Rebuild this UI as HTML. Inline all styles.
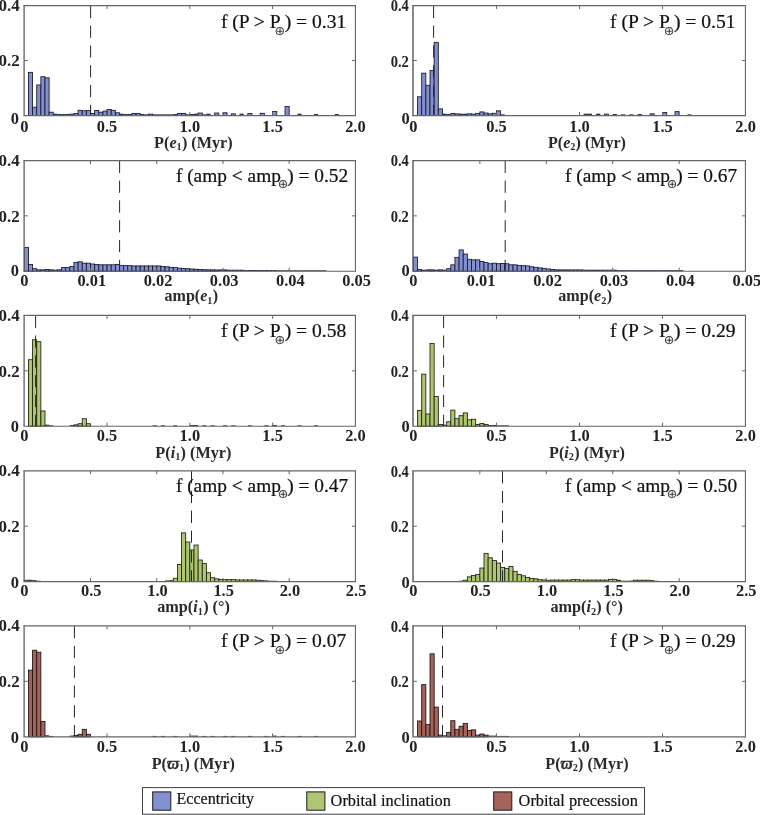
<!DOCTYPE html>
<html lang="en"><head><meta charset="utf-8"><title>Orbital element spectra histograms</title>
<style>
html,body{margin:0;padding:0;background:#fff;}
svg{display:block;will-change:transform;}
text{font-family:"Liberation Serif","DejaVu Serif",serif;fill:#222;}
.tk{font-size:16.4px;font-weight:bold;}
.ty{font-size:17px;font-weight:bold;}
.tz{font-size:15.8px;font-weight:bold;}
.xl{font-size:16.4px;font-weight:bold;fill:#2b2b2b;}
.an{font-size:19.1px;fill:#111;stroke:#111;stroke-width:0.22px;}
.lg{font-size:16.3px;fill:#111;stroke:#111;stroke-width:0.2px;}
.bi{font-style:italic;font-weight:bold;}
.sb{font-size:10.4px;}
.ss{stroke:none;fill:#3a3a3a;font-size:12.4px;font-family:"DejaVu Sans","Liberation Serif",sans-serif;}
</style></head><body>
<svg width="760" height="815" viewBox="0 0 760 815">
<rect x="0" y="0" width="760" height="815" fill="#fff"/>
<g id="p00">
<g fill="#8390d0" stroke="#14172a" stroke-width="0.85">
<rect x="28.44" y="72.33" width="4.14" height="43.17"/>
<rect x="32.58" y="107.25" width="4.14" height="8.25"/>
<rect x="36.72" y="84.98" width="4.14" height="30.52"/>
<rect x="40.86" y="76.73" width="4.14" height="38.77"/>
<rect x="44.99" y="77.82" width="4.14" height="37.68"/>
<rect x="49.13" y="112.2" width="4.14" height="3.3"/>
<rect x="53.27" y="113.69" width="4.14" height="1.81" stroke="none" fill="#14172a" opacity="0.88"/>
<rect x="57.41" y="114" width="4.14" height="1.5" stroke="none" fill="#14172a" opacity="0.88"/>
<rect x="61.55" y="114" width="4.14" height="1.5" stroke="none" fill="#14172a" opacity="0.88"/>
<rect x="65.69" y="114" width="4.14" height="1.5" stroke="none" fill="#14172a" opacity="0.88"/>
<rect x="69.83" y="114.12" width="4.14" height="1.37"/>
<rect x="73.97" y="113.58" width="4.14" height="1.92"/>
<rect x="78.1" y="110.28" width="4.14" height="5.22"/>
<rect x="82.24" y="110.83" width="4.14" height="4.68"/>
<rect x="86.38" y="110.55" width="4.14" height="4.95"/>
<rect x="90.52" y="113.58" width="4.14" height="1.92"/>
<rect x="94.66" y="110.55" width="4.14" height="4.95"/>
<rect x="98.8" y="112.2" width="4.14" height="3.3"/>
<rect x="102.94" y="111.1" width="4.14" height="4.4"/>
<rect x="107.08" y="109.45" width="4.14" height="6.05"/>
<rect x="111.21" y="110.28" width="4.14" height="5.22"/>
<rect x="115.35" y="112.75" width="4.14" height="2.75"/>
<rect x="119.49" y="113.69" width="4.14" height="1.81" stroke="none" fill="#14172a" opacity="0.88"/>
<rect x="123.63" y="114" width="4.14" height="1.5" stroke="none" fill="#14172a" opacity="0.88"/>
<rect x="127.77" y="114" width="4.14" height="1.5" stroke="none" fill="#14172a" opacity="0.88"/>
<rect x="131.91" y="113.44" width="4.14" height="2.06"/>
<rect x="136.05" y="113.44" width="4.14" height="2.06"/>
<rect x="140.19" y="114" width="4.14" height="1.5" stroke="none" fill="#14172a" opacity="0.88"/>
<rect x="144.32" y="114.32" width="4.14" height="1.18" stroke="none" fill="#14172a" opacity="0.88"/>
<rect x="148.46" y="114.12" width="4.14" height="1.37"/>
<rect x="152.6" y="114.32" width="4.14" height="1.18" stroke="none" fill="#14172a" opacity="0.88"/>
<rect x="156.74" y="114.32" width="4.14" height="1.18" stroke="none" fill="#14172a" opacity="0.88"/>
<rect x="160.88" y="114.32" width="4.14" height="1.18" stroke="none" fill="#14172a" opacity="0.88"/>
<rect x="165.02" y="114.32" width="4.14" height="1.18" stroke="none" fill="#14172a" opacity="0.88"/>
<rect x="169.16" y="114.32" width="4.14" height="1.18" stroke="none" fill="#14172a" opacity="0.88"/>
<rect x="173.3" y="114" width="4.14" height="1.5" stroke="none" fill="#14172a" opacity="0.88"/>
<rect x="177.43" y="113.44" width="4.14" height="2.06"/>
<rect x="181.57" y="113.44" width="4.14" height="2.06"/>
<rect x="185.71" y="114.32" width="4.14" height="1.18" stroke="none" fill="#14172a" opacity="0.88"/>
<rect x="189.85" y="114" width="4.14" height="1.5" stroke="none" fill="#14172a" opacity="0.88"/>
<rect x="193.99" y="113.69" width="4.14" height="1.81" stroke="none" fill="#14172a" opacity="0.88"/>
<rect x="198.13" y="113.03" width="4.14" height="2.47"/>
<rect x="202.27" y="114.32" width="4.14" height="1.18" stroke="none" fill="#14172a" opacity="0.88"/>
<rect x="206.41" y="113.69" width="4.14" height="1.81" stroke="none" fill="#14172a" opacity="0.88"/>
<rect x="214.68" y="113.03" width="4.14" height="2.47"/>
<rect x="222.96" y="112.75" width="4.14" height="2.75"/>
<rect x="231.24" y="113.85" width="4.14" height="1.65"/>
<rect x="239.52" y="113.69" width="4.14" height="1.81" stroke="none" fill="#14172a" opacity="0.88"/>
<rect x="247.79" y="113.58" width="4.14" height="1.92"/>
<rect x="260.21" y="113.3" width="4.14" height="2.2"/>
<rect x="272.62" y="111.38" width="4.14" height="4.12"/>
<rect x="285.04" y="106.42" width="4.14" height="9.08"/>
<rect x="297.46" y="113.69" width="4.14" height="1.81" stroke="none" fill="#14172a" opacity="0.88"/>
<rect x="314.01" y="114" width="4.14" height="1.5" stroke="none" fill="#14172a" opacity="0.88"/>
<rect x="334.71" y="114" width="4.14" height="1.5" stroke="none" fill="#14172a" opacity="0.88"/>
</g>
<line x1="90.6" y1="5.8" x2="90.6" y2="115.5" stroke="#262626" stroke-width="1" stroke-dasharray="12.2 7.6" fill="none"/>
<path d="M23.45 5.55H356.02M23.45 115.55H356.02" stroke="#666" stroke-width="1.2" fill="none"/>
<path d="M24.12 5.5V115.5" stroke="#666" stroke-width="1.35" fill="none"/>
<path d="M355.45 5.5V115.5" stroke="#666" stroke-width="1.15" fill="none"/>
<path d="M107.07 115.5v-3.5M107.07 5.5v3.5 M189.85 115.5v-3.5M189.85 5.5v3.5 M272.62 115.5v-3.5M272.62 5.5v3.5 M24.3 60.5h3.5M355.4 60.5h-3.5" stroke="#666" stroke-width="1" fill="none"/>
<text class="tk" x="18.9" y="123.8" text-anchor="end">0</text>
<text class="ty" x="19.65" y="66.35" text-anchor="end">0.2</text>
<text class="ty" x="19.65" y="10.8" text-anchor="end">0.4</text>
<text class="tk" x="24.3" y="132" text-anchor="middle">0</text>
<text class="tk" x="107.07" y="132" text-anchor="middle">0.5</text>
<text class="tk" x="189.85" y="132" text-anchor="middle">1.0</text>
<text class="tk" x="272.62" y="132" text-anchor="middle">1.5</text>
<text class="tk" x="355.4" y="132" text-anchor="middle">2.0</text>
<text class="xl" x="154.1" y="147.8" textLength="78.6" lengthAdjust="spacingAndGlyphs"><tspan>P(</tspan><tspan class="bi">e</tspan><tspan class="sb" style="font-weight:bold" dy="2.5">1</tspan><tspan dy="-2.5" font-size="1px"> </tspan><tspan>) (Myr)</tspan></text>
<text class="an" x="220.9" y="28" textLength="125.4" lengthAdjust="spacingAndGlyphs">f (P &gt; P<tspan class="ss" dx="-6.0" dy="6.9">⊕</tspan><tspan dx="-0.5" dy="-6.9">) = 0.31</tspan></text>
</g>
<g id="p01">
<g fill="#8390d0" stroke="#14172a" stroke-width="0.85">
<rect x="417.55" y="96.8" width="4.15" height="18.7"/>
<rect x="421.7" y="73.15" width="4.15" height="42.35"/>
<rect x="425.86" y="85.25" width="4.15" height="30.25"/>
<rect x="430.01" y="70.4" width="4.15" height="45.1"/>
<rect x="434.16" y="42.35" width="4.15" height="73.15"/>
<rect x="438.31" y="108.9" width="4.15" height="6.6"/>
<rect x="442.47" y="113.69" width="4.15" height="1.81" stroke="none" fill="#14172a" opacity="0.88"/>
<rect x="446.62" y="114" width="4.15" height="1.5" stroke="none" fill="#14172a" opacity="0.88"/>
<rect x="450.77" y="113.58" width="4.15" height="1.92"/>
<rect x="454.92" y="113.85" width="4.15" height="1.65"/>
<rect x="459.08" y="113.69" width="4.15" height="1.81" stroke="none" fill="#14172a" opacity="0.88"/>
<rect x="463.23" y="113.69" width="4.15" height="1.81" stroke="none" fill="#14172a" opacity="0.88"/>
<rect x="467.38" y="113.85" width="4.15" height="1.65"/>
<rect x="471.53" y="114.12" width="4.15" height="1.37"/>
<rect x="475.69" y="113.58" width="4.15" height="1.92"/>
<rect x="479.84" y="111.92" width="4.15" height="3.57"/>
<rect x="483.99" y="113.03" width="4.15" height="2.47"/>
<rect x="488.14" y="113.85" width="4.15" height="1.65"/>
<rect x="492.3" y="113.3" width="4.15" height="2.2"/>
<rect x="496.45" y="110.83" width="4.15" height="4.68"/>
<rect x="500.6" y="114.32" width="4.15" height="1.18" stroke="none" fill="#14172a" opacity="0.88"/>
<rect x="583.65" y="113.69" width="4.15" height="1.81" stroke="none" fill="#14172a" opacity="0.88"/>
<rect x="587.81" y="113.69" width="4.15" height="1.81" stroke="none" fill="#14172a" opacity="0.88"/>
<rect x="596.11" y="113.69" width="4.15" height="1.81" stroke="none" fill="#14172a" opacity="0.88"/>
<rect x="604.41" y="114.12" width="4.15" height="1.37"/>
<rect x="612.72" y="114" width="4.15" height="1.5" stroke="none" fill="#14172a" opacity="0.88"/>
<rect x="621.02" y="114.32" width="4.15" height="1.18" stroke="none" fill="#14172a" opacity="0.88"/>
<rect x="629.33" y="114.32" width="4.15" height="1.18" stroke="none" fill="#14172a" opacity="0.88"/>
<rect x="637.63" y="114" width="4.15" height="1.5" stroke="none" fill="#14172a" opacity="0.88"/>
<rect x="650.09" y="113.85" width="4.15" height="1.65"/>
<rect x="662.55" y="112.47" width="4.15" height="3.02"/>
<rect x="675.01" y="111.65" width="4.15" height="3.85"/>
<rect x="687.47" y="114.32" width="4.15" height="1.18" stroke="none" fill="#14172a" opacity="0.88"/>
</g>
<line x1="433.6" y1="5.8" x2="433.6" y2="115.5" stroke="#262626" stroke-width="1" stroke-dasharray="12.2 7.6" fill="none"/>
<path d="M412.23 5.55H746.02M412.23 115.55H746.02" stroke="#666" stroke-width="1.2" fill="none"/>
<path d="M413.0 5.5V115.5" stroke="#666" stroke-width="1.55" fill="none"/>
<path d="M745.45 5.5V115.5" stroke="#666" stroke-width="1.15" fill="none"/>
<path d="M496.45 115.5v-3.5M496.45 5.5v3.5 M579.5 115.5v-3.5M579.5 5.5v3.5 M662.55 115.5v-3.5M662.55 5.5v3.5 M413.4 60.5h3.5M745.6 60.5h-3.5" stroke="#666" stroke-width="1" fill="none"/>
<text class="tk" x="409.8" y="123.8" text-anchor="end">0</text>
<text class="tz" x="408.9" y="66.6" text-anchor="end" textLength="18.2" lengthAdjust="spacingAndGlyphs">0.2</text>
<text class="tz" x="408.9" y="11.4" text-anchor="end" textLength="18.2" lengthAdjust="spacingAndGlyphs">0.4</text>
<text class="tk" x="413.4" y="132" text-anchor="middle">0</text>
<text class="tk" x="496.45" y="132" text-anchor="middle">0.5</text>
<text class="tk" x="579.5" y="132" text-anchor="middle">1.0</text>
<text class="tk" x="662.55" y="132" text-anchor="middle">1.5</text>
<text class="tk" x="745.6" y="132" text-anchor="middle">2.0</text>
<text class="xl" x="548" y="147.8" textLength="77.9" lengthAdjust="spacingAndGlyphs"><tspan>P(</tspan><tspan class="bi">e</tspan><tspan class="sb" style="font-weight:bold" dy="2.5">2</tspan><tspan dy="-2.5" font-size="1px"> </tspan><tspan>) (Myr)</tspan></text>
<text class="an" x="610.1" y="28" textLength="125.4" lengthAdjust="spacingAndGlyphs">f (P &gt; P<tspan class="ss" dx="-6.0" dy="6.9">⊕</tspan><tspan dx="-0.5" dy="-6.9">) = 0.51</tspan></text>
</g>
<g id="p10">
<g fill="#8390d0" stroke="#14172a" stroke-width="0.85">
<rect x="24.3" y="247.4" width="4.14" height="23.8"/>
<rect x="28.44" y="264.56" width="4.14" height="6.64"/>
<rect x="32.58" y="268.71" width="4.14" height="2.49"/>
<rect x="36.72" y="269.82" width="4.14" height="1.38"/>
<rect x="40.86" y="269.38" width="4.14" height="1.82" stroke="none" fill="#14172a" opacity="0.88"/>
<rect x="44.99" y="269.54" width="4.14" height="1.66"/>
<rect x="49.13" y="269.82" width="4.14" height="1.38"/>
<rect x="53.27" y="269.7" width="4.14" height="1.5" stroke="none" fill="#14172a" opacity="0.88"/>
<rect x="57.41" y="269.82" width="4.14" height="1.38"/>
<rect x="61.55" y="267.6" width="4.14" height="3.6"/>
<rect x="65.69" y="267.6" width="4.14" height="3.6"/>
<rect x="69.83" y="266.5" width="4.14" height="4.7"/>
<rect x="73.97" y="262.34" width="4.14" height="8.86"/>
<rect x="78.1" y="261.79" width="4.14" height="9.41"/>
<rect x="82.24" y="263.17" width="4.14" height="8.03"/>
<rect x="86.38" y="263.17" width="4.14" height="8.03"/>
<rect x="90.52" y="264" width="4.14" height="7.2"/>
<rect x="94.66" y="264.56" width="4.14" height="6.64"/>
<rect x="98.8" y="264.83" width="4.14" height="6.37"/>
<rect x="102.94" y="264.83" width="4.14" height="6.37"/>
<rect x="107.08" y="264.83" width="4.14" height="6.37"/>
<rect x="111.21" y="264.83" width="4.14" height="6.37"/>
<rect x="115.35" y="264.56" width="4.14" height="6.64"/>
<rect x="119.49" y="265.39" width="4.14" height="5.81"/>
<rect x="123.63" y="265.66" width="4.14" height="5.53"/>
<rect x="127.77" y="265.66" width="4.14" height="5.53"/>
<rect x="131.91" y="265.94" width="4.14" height="5.26"/>
<rect x="136.05" y="265.94" width="4.14" height="5.26"/>
<rect x="140.19" y="265.94" width="4.14" height="5.26"/>
<rect x="144.32" y="265.94" width="4.14" height="5.26"/>
<rect x="148.46" y="265.94" width="4.14" height="5.26"/>
<rect x="152.6" y="265.94" width="4.14" height="5.26"/>
<rect x="156.74" y="265.94" width="4.14" height="5.26"/>
<rect x="160.88" y="266.5" width="4.14" height="4.7"/>
<rect x="165.02" y="266.77" width="4.14" height="4.43"/>
<rect x="169.16" y="267.33" width="4.14" height="3.87"/>
<rect x="173.3" y="267.6" width="4.14" height="3.6"/>
<rect x="177.43" y="268.16" width="4.14" height="3.04"/>
<rect x="181.57" y="268.43" width="4.14" height="2.77"/>
<rect x="185.71" y="268.71" width="4.14" height="2.49"/>
<rect x="189.85" y="268.99" width="4.14" height="2.21"/>
<rect x="193.99" y="269.26" width="4.14" height="1.94"/>
<rect x="198.13" y="269.54" width="4.14" height="1.66"/>
<rect x="202.27" y="269.68" width="4.14" height="1.52"/>
<rect x="206.41" y="269.82" width="4.14" height="1.38"/>
<rect x="210.54" y="269.82" width="4.14" height="1.38"/>
<rect x="214.68" y="269.95" width="4.14" height="1.25"/>
<rect x="218.82" y="269.38" width="4.14" height="1.82" stroke="none" fill="#14172a" opacity="0.88"/>
<rect x="222.96" y="269.38" width="4.14" height="1.82" stroke="none" fill="#14172a" opacity="0.88"/>
<rect x="227.1" y="269.7" width="4.14" height="1.5" stroke="none" fill="#14172a" opacity="0.88"/>
<rect x="231.24" y="269.7" width="4.14" height="1.5" stroke="none" fill="#14172a" opacity="0.88"/>
<rect x="235.38" y="269.7" width="4.14" height="1.5" stroke="none" fill="#14172a" opacity="0.88"/>
<rect x="239.52" y="269.7" width="4.14" height="1.5" stroke="none" fill="#14172a" opacity="0.88"/>
<rect x="243.65" y="270.01" width="4.14" height="1.19" stroke="none" fill="#14172a" opacity="0.88"/>
<rect x="247.79" y="270.01" width="4.14" height="1.19" stroke="none" fill="#14172a" opacity="0.88"/>
<rect x="251.93" y="270.01" width="4.14" height="1.19" stroke="none" fill="#14172a" opacity="0.88"/>
<rect x="256.07" y="270.01" width="4.14" height="1.19" stroke="none" fill="#14172a" opacity="0.88"/>
<rect x="260.21" y="270.01" width="4.14" height="1.19" stroke="none" fill="#14172a" opacity="0.88"/>
<rect x="264.35" y="270.01" width="4.14" height="1.19" stroke="none" fill="#14172a" opacity="0.88"/>
<rect x="268.49" y="270.01" width="4.14" height="1.19" stroke="none" fill="#14172a" opacity="0.88"/>
<rect x="272.62" y="270.01" width="4.14" height="1.19" stroke="none" fill="#14172a" opacity="0.88"/>
<rect x="276.76" y="270.27" width="4.14" height="0.93" stroke="none" fill="#14172a" opacity="0.88"/>
<rect x="280.9" y="270.27" width="4.14" height="0.93" stroke="none" fill="#14172a" opacity="0.88"/>
<rect x="285.04" y="270.27" width="4.14" height="0.93" stroke="none" fill="#14172a" opacity="0.88"/>
<rect x="289.18" y="270.27" width="4.14" height="0.93" stroke="none" fill="#14172a" opacity="0.88"/>
<rect x="293.32" y="270.27" width="4.14" height="0.93" stroke="none" fill="#14172a" opacity="0.88"/>
<rect x="297.46" y="270.27" width="4.14" height="0.93" stroke="none" fill="#14172a" opacity="0.88"/>
<rect x="301.6" y="270.27" width="4.14" height="0.93" stroke="none" fill="#14172a" opacity="0.88"/>
<rect x="305.74" y="270.27" width="4.14" height="0.93" stroke="none" fill="#14172a" opacity="0.88"/>
<rect x="309.87" y="270.27" width="4.14" height="0.93" stroke="none" fill="#14172a" opacity="0.88"/>
<rect x="314.01" y="270.27" width="4.14" height="0.93" stroke="none" fill="#14172a" opacity="0.88"/>
<rect x="318.15" y="270.27" width="4.14" height="0.93" stroke="none" fill="#14172a" opacity="0.88"/>
<rect x="322.29" y="270.27" width="4.14" height="0.93" stroke="none" fill="#14172a" opacity="0.88"/>
</g>
<line x1="119.6" y1="160.8" x2="119.6" y2="271.2" stroke="#262626" stroke-width="1" stroke-dasharray="12.2 7.6" fill="none"/>
<path d="M23.45 160.55H356.02M23.45 271.25H356.02" stroke="#666" stroke-width="1.2" fill="none"/>
<path d="M24.12 160.5V271.2" stroke="#666" stroke-width="1.35" fill="none"/>
<path d="M355.45 160.5V271.2" stroke="#666" stroke-width="1.15" fill="none"/>
<path d="M90.52 271.2v-3.5M90.52 160.5v3.5 M156.74 271.2v-3.5M156.74 160.5v3.5 M222.96 271.2v-3.5M222.96 160.5v3.5 M289.18 271.2v-3.5M289.18 160.5v3.5 M24.3 215.85h3.5M355.4 215.85h-3.5" stroke="#666" stroke-width="1" fill="none"/>
<text class="tk" x="18.9" y="275.5" text-anchor="end">0</text>
<text class="ty" x="19.65" y="221.7" text-anchor="end">0.2</text>
<text class="ty" x="19.65" y="165.8" text-anchor="end">0.4</text>
<text class="tk" x="24.3" y="285.5" text-anchor="middle">0</text>
<text class="tk" x="91.77" y="285.5" text-anchor="middle">0.01</text>
<text class="tk" x="157.99" y="285.5" text-anchor="middle">0.02</text>
<text class="tk" x="224.21" y="285.5" text-anchor="middle">0.03</text>
<text class="tk" x="290.43" y="285.5" text-anchor="middle">0.04</text>
<text class="tk" x="356.65" y="285.5" text-anchor="middle">0.05</text>
<text class="xl" x="164.6" y="301.3" textLength="53.4" lengthAdjust="spacingAndGlyphs"><tspan>amp(</tspan><tspan class="bi">e</tspan><tspan class="sb" style="font-weight:bold" dy="2.5">1</tspan><tspan dy="-2.5" font-size="1px"> </tspan><tspan>)</tspan></text>
<text class="an" x="175.9" y="182" textLength="172.2" lengthAdjust="spacingAndGlyphs">f (amp &lt; amp<tspan class="ss" dx="-3.2" dy="6.4">⊕</tspan><tspan dx="-1.0" dy="-6.4">) = 0.52</tspan></text>
</g>
<g id="p11">
<g fill="#8390d0" stroke="#14172a" stroke-width="0.85">
<rect x="413.4" y="257.09" width="4.15" height="14.11"/>
<rect x="417.55" y="269.54" width="4.15" height="1.66"/>
<rect x="421.7" y="269.7" width="4.15" height="1.5" stroke="none" fill="#14172a" opacity="0.88"/>
<rect x="425.86" y="269.38" width="4.15" height="1.82" stroke="none" fill="#14172a" opacity="0.88"/>
<rect x="430.01" y="269.82" width="4.15" height="1.38"/>
<rect x="434.16" y="269.7" width="4.15" height="1.5" stroke="none" fill="#14172a" opacity="0.88"/>
<rect x="438.31" y="269.82" width="4.15" height="1.38"/>
<rect x="442.47" y="269.7" width="4.15" height="1.5" stroke="none" fill="#14172a" opacity="0.88"/>
<rect x="446.62" y="268.71" width="4.15" height="2.49"/>
<rect x="450.77" y="264.83" width="4.15" height="6.37"/>
<rect x="454.92" y="257.36" width="4.15" height="13.84"/>
<rect x="459.08" y="249.89" width="4.15" height="21.31"/>
<rect x="463.23" y="254.04" width="4.15" height="17.16"/>
<rect x="467.38" y="259.3" width="4.15" height="11.9"/>
<rect x="471.53" y="259.85" width="4.15" height="11.35"/>
<rect x="475.69" y="259.85" width="4.15" height="11.35"/>
<rect x="479.84" y="261.51" width="4.15" height="9.69"/>
<rect x="483.99" y="262.62" width="4.15" height="8.58"/>
<rect x="488.14" y="263.73" width="4.15" height="7.47"/>
<rect x="492.3" y="263.17" width="4.15" height="8.03"/>
<rect x="496.45" y="263.73" width="4.15" height="7.47"/>
<rect x="500.6" y="263.45" width="4.15" height="7.75"/>
<rect x="504.75" y="263.73" width="4.15" height="7.47"/>
<rect x="508.91" y="264.83" width="4.15" height="6.37"/>
<rect x="513.06" y="264.83" width="4.15" height="6.37"/>
<rect x="517.21" y="265.39" width="4.15" height="5.81"/>
<rect x="521.37" y="265.66" width="4.15" height="5.53"/>
<rect x="525.52" y="265.94" width="4.15" height="5.26"/>
<rect x="529.67" y="266.77" width="4.15" height="4.43"/>
<rect x="533.82" y="267.33" width="4.15" height="3.87"/>
<rect x="537.98" y="267.88" width="4.15" height="3.32"/>
<rect x="542.13" y="268.43" width="4.15" height="2.77"/>
<rect x="546.28" y="268.99" width="4.15" height="2.21"/>
<rect x="550.43" y="269.54" width="4.15" height="1.66"/>
<rect x="554.59" y="269.82" width="4.15" height="1.38"/>
<rect x="558.74" y="269.38" width="4.15" height="1.82" stroke="none" fill="#14172a" opacity="0.88"/>
<rect x="562.89" y="269.38" width="4.15" height="1.82" stroke="none" fill="#14172a" opacity="0.88"/>
<rect x="567.04" y="269.38" width="4.15" height="1.82" stroke="none" fill="#14172a" opacity="0.88"/>
<rect x="571.19" y="269.38" width="4.15" height="1.82" stroke="none" fill="#14172a" opacity="0.88"/>
<rect x="575.35" y="269.38" width="4.15" height="1.82" stroke="none" fill="#14172a" opacity="0.88"/>
<rect x="579.5" y="269.38" width="4.15" height="1.82" stroke="none" fill="#14172a" opacity="0.88"/>
<rect x="583.65" y="269.7" width="4.15" height="1.5" stroke="none" fill="#14172a" opacity="0.88"/>
<rect x="587.81" y="269.7" width="4.15" height="1.5" stroke="none" fill="#14172a" opacity="0.88"/>
<rect x="591.96" y="269.7" width="4.15" height="1.5" stroke="none" fill="#14172a" opacity="0.88"/>
<rect x="596.11" y="269.7" width="4.15" height="1.5" stroke="none" fill="#14172a" opacity="0.88"/>
<rect x="600.26" y="269.7" width="4.15" height="1.5" stroke="none" fill="#14172a" opacity="0.88"/>
<rect x="604.41" y="269.7" width="4.15" height="1.5" stroke="none" fill="#14172a" opacity="0.88"/>
<rect x="608.57" y="269.7" width="4.15" height="1.5" stroke="none" fill="#14172a" opacity="0.88"/>
<rect x="612.72" y="269.7" width="4.15" height="1.5" stroke="none" fill="#14172a" opacity="0.88"/>
<rect x="616.87" y="270.17" width="4.15" height="1.03" stroke="none" fill="#14172a" opacity="0.88"/>
<rect x="621.02" y="270.17" width="4.15" height="1.03" stroke="none" fill="#14172a" opacity="0.88"/>
<rect x="625.18" y="270.17" width="4.15" height="1.03" stroke="none" fill="#14172a" opacity="0.88"/>
<rect x="629.33" y="270.17" width="4.15" height="1.03" stroke="none" fill="#14172a" opacity="0.88"/>
<rect x="633.48" y="270.17" width="4.15" height="1.03" stroke="none" fill="#14172a" opacity="0.88"/>
<rect x="637.63" y="270.17" width="4.15" height="1.03" stroke="none" fill="#14172a" opacity="0.88"/>
<rect x="641.79" y="270.17" width="4.15" height="1.03" stroke="none" fill="#14172a" opacity="0.88"/>
<rect x="645.94" y="270.17" width="4.15" height="1.03" stroke="none" fill="#14172a" opacity="0.88"/>
<rect x="650.09" y="270.17" width="4.15" height="1.03" stroke="none" fill="#14172a" opacity="0.88"/>
<rect x="654.25" y="270.17" width="4.15" height="1.03" stroke="none" fill="#14172a" opacity="0.88"/>
<rect x="658.4" y="270.17" width="4.15" height="1.03" stroke="none" fill="#14172a" opacity="0.88"/>
<rect x="662.55" y="270.17" width="4.15" height="1.03" stroke="none" fill="#14172a" opacity="0.88"/>
<rect x="666.7" y="270.17" width="4.15" height="1.03" stroke="none" fill="#14172a" opacity="0.88"/>
<rect x="670.86" y="270.17" width="4.15" height="1.03" stroke="none" fill="#14172a" opacity="0.88"/>
<rect x="675.01" y="270.17" width="4.15" height="1.03" stroke="none" fill="#14172a" opacity="0.88"/>
<rect x="679.16" y="270.17" width="4.15" height="1.03" stroke="none" fill="#14172a" opacity="0.88"/>
</g>
<line x1="505.2" y1="160.8" x2="505.2" y2="271.2" stroke="#262626" stroke-width="1" stroke-dasharray="12.2 7.6" fill="none"/>
<path d="M412.23 160.55H746.02M412.23 271.25H746.02" stroke="#666" stroke-width="1.2" fill="none"/>
<path d="M413.0 160.5V271.2" stroke="#666" stroke-width="1.55" fill="none"/>
<path d="M745.45 160.5V271.2" stroke="#666" stroke-width="1.15" fill="none"/>
<path d="M479.84 271.2v-3.5M479.84 160.5v3.5 M546.28 271.2v-3.5M546.28 160.5v3.5 M612.72 271.2v-3.5M612.72 160.5v3.5 M679.16 271.2v-3.5M679.16 160.5v3.5 M413.4 215.85h3.5M745.6 215.85h-3.5" stroke="#666" stroke-width="1" fill="none"/>
<text class="tk" x="409.8" y="275.5" text-anchor="end">0</text>
<text class="tz" x="408.9" y="221.95" text-anchor="end" textLength="18.2" lengthAdjust="spacingAndGlyphs">0.2</text>
<text class="tz" x="408.9" y="166.4" text-anchor="end" textLength="18.2" lengthAdjust="spacingAndGlyphs">0.4</text>
<text class="tk" x="413.4" y="285.5" text-anchor="middle">0</text>
<text class="tk" x="481.09" y="285.5" text-anchor="middle">0.01</text>
<text class="tk" x="547.53" y="285.5" text-anchor="middle">0.02</text>
<text class="tk" x="613.97" y="285.5" text-anchor="middle">0.03</text>
<text class="tk" x="680.41" y="285.5" text-anchor="middle">0.04</text>
<text class="tk" x="746.85" y="285.5" text-anchor="middle">0.05</text>
<text class="xl" x="558.3" y="301.3" textLength="53.7" lengthAdjust="spacingAndGlyphs"><tspan>amp(</tspan><tspan class="bi">e</tspan><tspan class="sb" style="font-weight:bold" dy="2.5">2</tspan><tspan dy="-2.5" font-size="1px"> </tspan><tspan>)</tspan></text>
<text class="an" x="565" y="182" textLength="172.2" lengthAdjust="spacingAndGlyphs">f (amp &lt; amp<tspan class="ss" dx="-3.2" dy="6.4">⊕</tspan><tspan dx="-1.0" dy="-6.4">) = 0.67</tspan></text>
</g>
<g id="p20">
<g fill="#aec572" stroke="#1c2010" stroke-width="0.85">
<rect x="28.44" y="359.72" width="4.14" height="66.48"/>
<rect x="32.58" y="339.78" width="4.14" height="86.42"/>
<rect x="36.72" y="341.71" width="4.14" height="84.48"/>
<rect x="40.86" y="410.96" width="4.14" height="15.23"/>
<rect x="44.99" y="424.69" width="4.14" height="1.51" stroke="none" fill="#1c2010" opacity="0.88"/>
<rect x="49.13" y="425.33" width="4.14" height="0.87" stroke="none" fill="#1c2010" opacity="0.88"/>
<rect x="69.83" y="425.01" width="4.14" height="1.19" stroke="none" fill="#1c2010" opacity="0.88"/>
<rect x="73.97" y="424.81" width="4.14" height="1.39"/>
<rect x="78.1" y="423.71" width="4.14" height="2.49"/>
<rect x="82.24" y="418.72" width="4.14" height="7.48"/>
<rect x="86.38" y="423.71" width="4.14" height="2.49"/>
<rect x="152.6" y="425.33" width="4.14" height="0.87" stroke="none" fill="#1c2010" opacity="0.88"/>
<rect x="160.88" y="425.33" width="4.14" height="0.87" stroke="none" fill="#1c2010" opacity="0.88"/>
<rect x="173.3" y="425.33" width="4.14" height="0.87" stroke="none" fill="#1c2010" opacity="0.88"/>
<rect x="189.85" y="425.01" width="4.14" height="1.19" stroke="none" fill="#1c2010" opacity="0.88"/>
<rect x="193.99" y="425.01" width="4.14" height="1.19" stroke="none" fill="#1c2010" opacity="0.88"/>
<rect x="202.27" y="425.33" width="4.14" height="0.87" stroke="none" fill="#1c2010" opacity="0.88"/>
<rect x="210.54" y="425.33" width="4.14" height="0.87" stroke="none" fill="#1c2010" opacity="0.88"/>
<rect x="222.96" y="425.33" width="4.14" height="0.87" stroke="none" fill="#1c2010" opacity="0.88"/>
<rect x="231.24" y="425.33" width="4.14" height="0.87" stroke="none" fill="#1c2010" opacity="0.88"/>
<rect x="247.79" y="425.33" width="4.14" height="0.87" stroke="none" fill="#1c2010" opacity="0.88"/>
<rect x="264.35" y="425.33" width="4.14" height="0.87" stroke="none" fill="#1c2010" opacity="0.88"/>
<rect x="272.62" y="425.01" width="4.14" height="1.19" stroke="none" fill="#1c2010" opacity="0.88"/>
<rect x="280.9" y="425.33" width="4.14" height="0.87" stroke="none" fill="#1c2010" opacity="0.88"/>
<rect x="297.46" y="425.33" width="4.14" height="0.87" stroke="none" fill="#1c2010" opacity="0.88"/>
<rect x="314.01" y="425.33" width="4.14" height="0.87" stroke="none" fill="#1c2010" opacity="0.88"/>
</g>
<line x1="35.6" y1="315.7" x2="35.6" y2="426.2" stroke="#262626" stroke-width="1" stroke-dasharray="12.2 7.6" fill="none"/>
<path d="M23.45 315.45H356.02M23.45 426.25H356.02" stroke="#666" stroke-width="1.2" fill="none"/>
<path d="M24.12 315.4V426.2" stroke="#666" stroke-width="1.35" fill="none"/>
<path d="M355.45 315.4V426.2" stroke="#666" stroke-width="1.15" fill="none"/>
<path d="M107.07 426.2v-3.5M107.07 315.4v3.5 M189.85 426.2v-3.5M189.85 315.4v3.5 M272.62 426.2v-3.5M272.62 315.4v3.5 M24.3 370.8h3.5M355.4 370.8h-3.5" stroke="#666" stroke-width="1" fill="none"/>
<text class="tk" x="18.9" y="432.2" text-anchor="end">0</text>
<text class="ty" x="19.65" y="376.65" text-anchor="end">0.2</text>
<text class="ty" x="19.65" y="320.7" text-anchor="end">0.4</text>
<text class="tk" x="24.3" y="440.8" text-anchor="middle">0</text>
<text class="tk" x="107.07" y="440.8" text-anchor="middle">0.5</text>
<text class="tk" x="189.85" y="440.8" text-anchor="middle">1.0</text>
<text class="tk" x="272.62" y="440.8" text-anchor="middle">1.5</text>
<text class="tk" x="355.4" y="440.8" text-anchor="middle">2.0</text>
<text class="xl" x="155.3" y="457.85" textLength="76.15" lengthAdjust="spacingAndGlyphs"><tspan>P(</tspan><tspan class="bi">i</tspan><tspan class="sb" style="font-weight:bold" dy="2.5">1</tspan><tspan dy="-2.5" font-size="1px"> </tspan><tspan>) (Myr)</tspan></text>
<text class="an" x="220.9" y="337" textLength="125.4" lengthAdjust="spacingAndGlyphs">f (P &gt; P<tspan class="ss" dx="-6.0" dy="6.9">⊕</tspan><tspan dx="-0.5" dy="-6.9">) = 0.58</tspan></text>
</g>
<g id="p21">
<g fill="#aec572" stroke="#1c2010" stroke-width="0.85">
<rect x="417.55" y="410.41" width="4.15" height="15.79"/>
<rect x="421.7" y="374.12" width="4.15" height="52.08"/>
<rect x="425.86" y="414.01" width="4.15" height="12.19"/>
<rect x="430.01" y="343.38" width="4.15" height="82.82"/>
<rect x="434.16" y="396.56" width="4.15" height="29.64"/>
<rect x="438.31" y="424.54" width="4.15" height="1.66"/>
<rect x="442.47" y="424.69" width="4.15" height="1.51" stroke="none" fill="#1c2010" opacity="0.88"/>
<rect x="446.62" y="421.77" width="4.15" height="4.43"/>
<rect x="450.77" y="410.13" width="4.15" height="16.07"/>
<rect x="454.92" y="418.72" width="4.15" height="7.48"/>
<rect x="459.08" y="415.67" width="4.15" height="10.53"/>
<rect x="463.23" y="412.9" width="4.15" height="13.3"/>
<rect x="467.38" y="419.83" width="4.15" height="6.37"/>
<rect x="471.53" y="419.27" width="4.15" height="6.93"/>
<rect x="475.69" y="424.54" width="4.15" height="1.66"/>
<rect x="479.84" y="423.43" width="4.15" height="2.77"/>
<rect x="483.99" y="424.54" width="4.15" height="1.66"/>
<rect x="488.14" y="425.01" width="4.15" height="1.19" stroke="none" fill="#1c2010" opacity="0.88"/>
<rect x="492.3" y="425.01" width="4.15" height="1.19" stroke="none" fill="#1c2010" opacity="0.88"/>
<rect x="496.45" y="425.33" width="4.15" height="0.87" stroke="none" fill="#1c2010" opacity="0.88"/>
<rect x="500.6" y="425.33" width="4.15" height="0.87" stroke="none" fill="#1c2010" opacity="0.88"/>
<rect x="504.75" y="425.33" width="4.15" height="0.87" stroke="none" fill="#1c2010" opacity="0.88"/>
</g>
<line x1="443.6" y1="315.7" x2="443.6" y2="426.2" stroke="#262626" stroke-width="1" stroke-dasharray="12.2 7.6" fill="none"/>
<path d="M412.23 315.45H746.02M412.23 426.25H746.02" stroke="#666" stroke-width="1.2" fill="none"/>
<path d="M413.0 315.4V426.2" stroke="#666" stroke-width="1.55" fill="none"/>
<path d="M745.45 315.4V426.2" stroke="#666" stroke-width="1.15" fill="none"/>
<path d="M496.45 426.2v-3.5M496.45 315.4v3.5 M579.5 426.2v-3.5M579.5 315.4v3.5 M662.55 426.2v-3.5M662.55 315.4v3.5 M413.4 370.8h3.5M745.6 370.8h-3.5" stroke="#666" stroke-width="1" fill="none"/>
<text class="tk" x="409.8" y="432.2" text-anchor="end">0</text>
<text class="tz" x="408.9" y="376.9" text-anchor="end" textLength="18.2" lengthAdjust="spacingAndGlyphs">0.2</text>
<text class="tz" x="408.9" y="321.3" text-anchor="end" textLength="18.2" lengthAdjust="spacingAndGlyphs">0.4</text>
<text class="tk" x="413.4" y="440.8" text-anchor="middle">0</text>
<text class="tk" x="496.45" y="440.8" text-anchor="middle">0.5</text>
<text class="tk" x="579.5" y="440.8" text-anchor="middle">1.0</text>
<text class="tk" x="662.55" y="440.8" text-anchor="middle">1.5</text>
<text class="tk" x="745.6" y="440.8" text-anchor="middle">2.0</text>
<text class="xl" x="549.1" y="457.85" textLength="75.8" lengthAdjust="spacingAndGlyphs"><tspan>P(</tspan><tspan class="bi">i</tspan><tspan class="sb" style="font-weight:bold" dy="2.5">2</tspan><tspan dy="-2.5" font-size="1px"> </tspan><tspan>) (Myr)</tspan></text>
<text class="an" x="610.1" y="337" textLength="125.4" lengthAdjust="spacingAndGlyphs">f (P &gt; P<tspan class="ss" dx="-6.0" dy="6.9">⊕</tspan><tspan dx="-0.5" dy="-6.9">) = 0.29</tspan></text>
</g>
<g id="p30">
<g fill="#aec572" stroke="#1c2010" stroke-width="0.85">
<rect x="24.3" y="580.22" width="4.14" height="1.39"/>
<rect x="28.44" y="579.78" width="4.14" height="1.82" stroke="none" fill="#1c2010" opacity="0.88"/>
<rect x="32.58" y="580.09" width="4.14" height="1.51" stroke="none" fill="#1c2010" opacity="0.88"/>
<rect x="36.72" y="580.73" width="4.14" height="0.87" stroke="none" fill="#1c2010" opacity="0.88"/>
<rect x="165.02" y="580.41" width="4.14" height="1.19" stroke="none" fill="#1c2010" opacity="0.88"/>
<rect x="169.16" y="580.09" width="4.14" height="1.51" stroke="none" fill="#1c2010" opacity="0.88"/>
<rect x="173.3" y="578.28" width="4.14" height="3.32"/>
<rect x="177.43" y="564.43" width="4.14" height="17.17"/>
<rect x="181.57" y="532.85" width="4.14" height="48.75"/>
<rect x="185.71" y="541.99" width="4.14" height="39.61"/>
<rect x="189.85" y="550.02" width="4.14" height="31.58"/>
<rect x="193.99" y="545.04" width="4.14" height="36.56"/>
<rect x="198.13" y="559.99" width="4.14" height="21.61"/>
<rect x="202.27" y="563.6" width="4.14" height="18.01"/>
<rect x="206.41" y="572.74" width="4.14" height="8.86"/>
<rect x="210.54" y="577.72" width="4.14" height="3.88"/>
<rect x="214.68" y="578.83" width="4.14" height="2.77"/>
<rect x="218.82" y="579.38" width="4.14" height="2.22"/>
<rect x="222.96" y="579.66" width="4.14" height="1.94"/>
<rect x="227.1" y="579.66" width="4.14" height="1.94"/>
<rect x="231.24" y="579.66" width="4.14" height="1.94"/>
<rect x="235.38" y="579.94" width="4.14" height="1.66"/>
<rect x="239.52" y="579.94" width="4.14" height="1.66"/>
<rect x="243.65" y="579.94" width="4.14" height="1.66"/>
<rect x="247.79" y="579.94" width="4.14" height="1.66"/>
<rect x="251.93" y="579.94" width="4.14" height="1.66"/>
<rect x="256.07" y="580.22" width="4.14" height="1.39"/>
<rect x="260.21" y="580.09" width="4.14" height="1.51" stroke="none" fill="#1c2010" opacity="0.88"/>
<rect x="264.35" y="580.41" width="4.14" height="1.19" stroke="none" fill="#1c2010" opacity="0.88"/>
<rect x="268.49" y="580.73" width="4.14" height="0.87" stroke="none" fill="#1c2010" opacity="0.88"/>
<rect x="272.62" y="580.73" width="4.14" height="0.87" stroke="none" fill="#1c2010" opacity="0.88"/>
</g>
<line x1="191.5" y1="471.1" x2="191.5" y2="581.6" stroke="#262626" stroke-width="1" stroke-dasharray="12.2 7.6" fill="none"/>
<path d="M23.45 470.85H356.02M23.45 581.65H356.02" stroke="#666" stroke-width="1.2" fill="none"/>
<path d="M24.12 470.8V581.6" stroke="#666" stroke-width="1.35" fill="none"/>
<path d="M355.45 470.8V581.6" stroke="#666" stroke-width="1.15" fill="none"/>
<path d="M90.52 581.6v-3.5M90.52 470.8v3.5 M156.74 581.6v-3.5M156.74 470.8v3.5 M222.96 581.6v-3.5M222.96 470.8v3.5 M289.18 581.6v-3.5M289.18 470.8v3.5 M24.3 526.2h3.5M355.4 526.2h-3.5" stroke="#666" stroke-width="1" fill="none"/>
<text class="tk" x="18.9" y="588.05" text-anchor="end">0</text>
<text class="ty" x="19.65" y="532.05" text-anchor="end">0.2</text>
<text class="ty" x="19.65" y="476.1" text-anchor="end">0.4</text>
<text class="tk" x="24.3" y="596.1" text-anchor="middle">0</text>
<text class="tk" x="91.22" y="596.1" text-anchor="middle">0.5</text>
<text class="tk" x="157.44" y="596.1" text-anchor="middle">1.0</text>
<text class="tk" x="223.66" y="596.1" text-anchor="middle">1.5</text>
<text class="tk" x="289.88" y="596.1" text-anchor="middle">2.0</text>
<text class="tk" x="356.1" y="596.1" text-anchor="middle">2.5</text>
<text class="xl" x="157.2" y="612.1" textLength="72.7" lengthAdjust="spacingAndGlyphs"><tspan>amp(</tspan><tspan class="bi">i</tspan><tspan class="sb" style="font-weight:bold" dy="2.5">1</tspan><tspan dy="-2.5" font-size="1px"> </tspan><tspan>) (°)</tspan></text>
<text class="an" x="175.9" y="492" textLength="172.2" lengthAdjust="spacingAndGlyphs">f (amp &lt; amp<tspan class="ss" dx="-3.2" dy="6.4">⊕</tspan><tspan dx="-1.0" dy="-6.4">) = 0.47</tspan></text>
</g>
<g id="p31">
<g fill="#aec572" stroke="#1c2010" stroke-width="0.85">
<rect x="459.08" y="580.73" width="4.15" height="0.87" stroke="none" fill="#1c2010" opacity="0.88"/>
<rect x="463.23" y="580.22" width="4.15" height="1.39"/>
<rect x="467.38" y="576.89" width="4.15" height="4.71"/>
<rect x="471.53" y="575.51" width="4.15" height="6.09"/>
<rect x="475.69" y="574.4" width="4.15" height="7.2"/>
<rect x="479.84" y="568.03" width="4.15" height="13.57"/>
<rect x="483.99" y="553.35" width="4.15" height="28.25"/>
<rect x="488.14" y="557.78" width="4.15" height="23.82"/>
<rect x="492.3" y="560.55" width="4.15" height="21.05"/>
<rect x="496.45" y="563.04" width="4.15" height="18.56"/>
<rect x="500.6" y="567.47" width="4.15" height="14.13"/>
<rect x="504.75" y="568.58" width="4.15" height="13.02"/>
<rect x="508.91" y="566.37" width="4.15" height="15.23"/>
<rect x="513.06" y="571.35" width="4.15" height="10.25"/>
<rect x="517.21" y="574.4" width="4.15" height="7.2"/>
<rect x="521.37" y="575.78" width="4.15" height="5.82"/>
<rect x="525.52" y="577.45" width="4.15" height="4.16"/>
<rect x="529.67" y="578.55" width="4.15" height="3.05"/>
<rect x="533.82" y="578.83" width="4.15" height="2.77"/>
<rect x="537.98" y="579.66" width="4.15" height="1.94"/>
<rect x="542.13" y="579.94" width="4.15" height="1.66"/>
<rect x="546.28" y="580.22" width="4.15" height="1.39"/>
<rect x="550.43" y="580.08" width="4.15" height="1.52"/>
<rect x="554.59" y="580.08" width="4.15" height="1.52"/>
<rect x="558.74" y="580.08" width="4.15" height="1.52"/>
<rect x="562.89" y="580.08" width="4.15" height="1.52"/>
<rect x="567.04" y="580.08" width="4.15" height="1.52"/>
<rect x="571.19" y="579.66" width="4.15" height="1.94"/>
<rect x="575.35" y="579.66" width="4.15" height="1.94"/>
<rect x="579.5" y="580.08" width="4.15" height="1.52"/>
<rect x="583.65" y="580.08" width="4.15" height="1.52"/>
<rect x="587.81" y="580.08" width="4.15" height="1.52"/>
<rect x="591.96" y="580.08" width="4.15" height="1.52"/>
<rect x="596.11" y="580.08" width="4.15" height="1.52"/>
<rect x="600.26" y="580.08" width="4.15" height="1.52"/>
<rect x="604.41" y="580.08" width="4.15" height="1.52"/>
<rect x="608.57" y="579.38" width="4.15" height="2.22"/>
<rect x="612.72" y="579.38" width="4.15" height="2.22"/>
<rect x="616.87" y="579.78" width="4.15" height="1.82" stroke="none" fill="#1c2010" opacity="0.88"/>
<rect x="621.02" y="580.73" width="4.15" height="0.87" stroke="none" fill="#1c2010" opacity="0.88"/>
<rect x="625.18" y="580.73" width="4.15" height="0.87" stroke="none" fill="#1c2010" opacity="0.88"/>
<rect x="629.33" y="580.57" width="4.15" height="1.03" stroke="none" fill="#1c2010" opacity="0.88"/>
<rect x="633.48" y="580.22" width="4.15" height="1.39"/>
<rect x="637.63" y="580.22" width="4.15" height="1.39"/>
<rect x="641.79" y="580.22" width="4.15" height="1.39"/>
<rect x="645.94" y="580.22" width="4.15" height="1.39"/>
<rect x="650.09" y="580.09" width="4.15" height="1.51" stroke="none" fill="#1c2010" opacity="0.88"/>
<rect x="654.25" y="580.73" width="4.15" height="0.87" stroke="none" fill="#1c2010" opacity="0.88"/>
</g>
<line x1="502.5" y1="471.1" x2="502.5" y2="581.6" stroke="#262626" stroke-width="1" stroke-dasharray="12.2 7.6" fill="none"/>
<path d="M412.23 470.85H746.02M412.23 581.65H746.02" stroke="#666" stroke-width="1.2" fill="none"/>
<path d="M413.0 470.8V581.6" stroke="#666" stroke-width="1.55" fill="none"/>
<path d="M745.45 470.8V581.6" stroke="#666" stroke-width="1.15" fill="none"/>
<path d="M479.84 581.6v-3.5M479.84 470.8v3.5 M546.28 581.6v-3.5M546.28 470.8v3.5 M612.72 581.6v-3.5M612.72 470.8v3.5 M679.16 581.6v-3.5M679.16 470.8v3.5 M413.4 526.2h3.5M745.6 526.2h-3.5" stroke="#666" stroke-width="1" fill="none"/>
<text class="tk" x="409.8" y="588.05" text-anchor="end">0</text>
<text class="tz" x="408.9" y="532.3" text-anchor="end" textLength="18.2" lengthAdjust="spacingAndGlyphs">0.2</text>
<text class="tz" x="408.9" y="476.7" text-anchor="end" textLength="18.2" lengthAdjust="spacingAndGlyphs">0.4</text>
<text class="tk" x="413.4" y="596.1" text-anchor="middle">0</text>
<text class="tk" x="480.54" y="596.1" text-anchor="middle">0.5</text>
<text class="tk" x="546.98" y="596.1" text-anchor="middle">1.0</text>
<text class="tk" x="613.42" y="596.1" text-anchor="middle">1.5</text>
<text class="tk" x="679.86" y="596.1" text-anchor="middle">2.0</text>
<text class="tk" x="746.3" y="596.1" text-anchor="middle">2.5</text>
<text class="xl" x="550.4" y="612.1" textLength="72.6" lengthAdjust="spacingAndGlyphs"><tspan>amp(</tspan><tspan class="bi">i</tspan><tspan class="sb" style="font-weight:bold" dy="2.5">2</tspan><tspan dy="-2.5" font-size="1px"> </tspan><tspan>) (°)</tspan></text>
<text class="an" x="565" y="492" textLength="172.2" lengthAdjust="spacingAndGlyphs">f (amp &lt; amp<tspan class="ss" dx="-3.2" dy="6.4">⊕</tspan><tspan dx="-1.0" dy="-6.4">) = 0.50</tspan></text>
</g>
<g id="p40">
<g fill="#a5645b" stroke="#1f0f0c" stroke-width="0.85">
<rect x="28.44" y="670.2" width="4.14" height="66.6"/>
<rect x="32.58" y="650.22" width="4.14" height="86.58"/>
<rect x="36.72" y="652.16" width="4.14" height="84.64"/>
<rect x="40.86" y="721.54" width="4.14" height="15.26"/>
<rect x="44.99" y="735.29" width="4.14" height="1.51" stroke="none" fill="#1f0f0c" opacity="0.88"/>
<rect x="49.13" y="735.93" width="4.14" height="0.87" stroke="none" fill="#1f0f0c" opacity="0.88"/>
<rect x="69.83" y="735.61" width="4.14" height="1.19" stroke="none" fill="#1f0f0c" opacity="0.88"/>
<rect x="73.97" y="735.41" width="4.14" height="1.39"/>
<rect x="78.1" y="734.3" width="4.14" height="2.5"/>
<rect x="82.24" y="729.31" width="4.14" height="7.49"/>
<rect x="86.38" y="734.3" width="4.14" height="2.5"/>
<rect x="152.6" y="735.93" width="4.14" height="0.87" stroke="none" fill="#1f0f0c" opacity="0.88"/>
<rect x="160.88" y="735.93" width="4.14" height="0.87" stroke="none" fill="#1f0f0c" opacity="0.88"/>
<rect x="173.3" y="735.93" width="4.14" height="0.87" stroke="none" fill="#1f0f0c" opacity="0.88"/>
<rect x="189.85" y="735.61" width="4.14" height="1.19" stroke="none" fill="#1f0f0c" opacity="0.88"/>
<rect x="193.99" y="735.61" width="4.14" height="1.19" stroke="none" fill="#1f0f0c" opacity="0.88"/>
<rect x="202.27" y="735.93" width="4.14" height="0.87" stroke="none" fill="#1f0f0c" opacity="0.88"/>
<rect x="210.54" y="735.93" width="4.14" height="0.87" stroke="none" fill="#1f0f0c" opacity="0.88"/>
<rect x="222.96" y="735.93" width="4.14" height="0.87" stroke="none" fill="#1f0f0c" opacity="0.88"/>
<rect x="231.24" y="735.93" width="4.14" height="0.87" stroke="none" fill="#1f0f0c" opacity="0.88"/>
<rect x="247.79" y="735.93" width="4.14" height="0.87" stroke="none" fill="#1f0f0c" opacity="0.88"/>
<rect x="264.35" y="735.93" width="4.14" height="0.87" stroke="none" fill="#1f0f0c" opacity="0.88"/>
<rect x="272.62" y="735.61" width="4.14" height="1.19" stroke="none" fill="#1f0f0c" opacity="0.88"/>
<rect x="280.9" y="735.93" width="4.14" height="0.87" stroke="none" fill="#1f0f0c" opacity="0.88"/>
<rect x="297.46" y="735.93" width="4.14" height="0.87" stroke="none" fill="#1f0f0c" opacity="0.88"/>
<rect x="314.01" y="735.93" width="4.14" height="0.87" stroke="none" fill="#1f0f0c" opacity="0.88"/>
</g>
<line x1="74.4" y1="626.1" x2="74.4" y2="736.8" stroke="#262626" stroke-width="1" stroke-dasharray="12.2 7.6" fill="none"/>
<path d="M23.45 625.85H356.02M23.45 736.85H356.02" stroke="#666" stroke-width="1.2" fill="none"/>
<path d="M24.12 625.8V736.8" stroke="#666" stroke-width="1.35" fill="none"/>
<path d="M355.45 625.8V736.8" stroke="#666" stroke-width="1.15" fill="none"/>
<path d="M107.07 736.8v-3.5M107.07 625.8v3.5 M189.85 736.8v-3.5M189.85 625.8v3.5 M272.62 736.8v-3.5M272.62 625.8v3.5 M24.3 681.3h3.5M355.4 681.3h-3.5" stroke="#666" stroke-width="1" fill="none"/>
<text class="tk" x="18.9" y="742.7" text-anchor="end">0</text>
<text class="ty" x="19.65" y="687.15" text-anchor="end">0.2</text>
<text class="ty" x="19.65" y="631.1" text-anchor="end">0.4</text>
<text class="tk" x="24.3" y="752.4" text-anchor="middle">0</text>
<text class="tk" x="107.07" y="752.4" text-anchor="middle">0.5</text>
<text class="tk" x="189.85" y="752.4" text-anchor="middle">1.0</text>
<text class="tk" x="272.62" y="752.4" text-anchor="middle">1.5</text>
<text class="tk" x="355.4" y="752.4" text-anchor="middle">2.0</text>
<text class="xl" x="151.7" y="768.5" textLength="83.2" lengthAdjust="spacingAndGlyphs"><tspan>P(</tspan><tspan class="bi" stroke="#2b2b2b" stroke-width="0.3">ϖ</tspan><tspan class="sb" style="font-weight:bold" dy="2.5">1</tspan><tspan dy="-2.5" font-size="1px"> </tspan><tspan>) (Myr)</tspan></text>
<text class="an" x="220.9" y="647" textLength="125.4" lengthAdjust="spacingAndGlyphs">f (P &gt; P<tspan class="ss" dx="-6.0" dy="6.9">⊕</tspan><tspan dx="-0.5" dy="-6.9">) = 0.07</tspan></text>
</g>
<g id="p41">
<g fill="#a5645b" stroke="#1f0f0c" stroke-width="0.85">
<rect x="417.55" y="720.98" width="4.15" height="15.82"/>
<rect x="421.7" y="684.63" width="4.15" height="52.17"/>
<rect x="425.86" y="724.59" width="4.15" height="12.21"/>
<rect x="430.01" y="653.83" width="4.15" height="82.97"/>
<rect x="434.16" y="707.11" width="4.15" height="29.69"/>
<rect x="438.31" y="735.13" width="4.15" height="1.67"/>
<rect x="442.47" y="735.29" width="4.15" height="1.51" stroke="none" fill="#1f0f0c" opacity="0.88"/>
<rect x="446.62" y="732.36" width="4.15" height="4.44"/>
<rect x="450.77" y="720.7" width="4.15" height="16.09"/>
<rect x="454.92" y="729.31" width="4.15" height="7.49"/>
<rect x="459.08" y="726.25" width="4.15" height="10.54"/>
<rect x="463.23" y="723.48" width="4.15" height="13.32"/>
<rect x="467.38" y="730.42" width="4.15" height="6.38"/>
<rect x="471.53" y="729.86" width="4.15" height="6.94"/>
<rect x="475.69" y="735.13" width="4.15" height="1.67"/>
<rect x="479.84" y="734.02" width="4.15" height="2.77"/>
<rect x="483.99" y="735.13" width="4.15" height="1.67"/>
<rect x="488.14" y="735.61" width="4.15" height="1.19" stroke="none" fill="#1f0f0c" opacity="0.88"/>
<rect x="492.3" y="735.61" width="4.15" height="1.19" stroke="none" fill="#1f0f0c" opacity="0.88"/>
<rect x="496.45" y="735.93" width="4.15" height="0.87" stroke="none" fill="#1f0f0c" opacity="0.88"/>
<rect x="500.6" y="735.93" width="4.15" height="0.87" stroke="none" fill="#1f0f0c" opacity="0.88"/>
<rect x="504.75" y="735.93" width="4.15" height="0.87" stroke="none" fill="#1f0f0c" opacity="0.88"/>
</g>
<line x1="442.5" y1="626.1" x2="442.5" y2="736.8" stroke="#262626" stroke-width="1" stroke-dasharray="12.2 7.6" fill="none"/>
<path d="M412.23 625.85H746.02M412.23 736.85H746.02" stroke="#666" stroke-width="1.2" fill="none"/>
<path d="M413.0 625.8V736.8" stroke="#666" stroke-width="1.55" fill="none"/>
<path d="M745.45 625.8V736.8" stroke="#666" stroke-width="1.15" fill="none"/>
<path d="M496.45 736.8v-3.5M496.45 625.8v3.5 M579.5 736.8v-3.5M579.5 625.8v3.5 M662.55 736.8v-3.5M662.55 625.8v3.5 M413.4 681.3h3.5M745.6 681.3h-3.5" stroke="#666" stroke-width="1" fill="none"/>
<text class="tk" x="409.8" y="742.7" text-anchor="end">0</text>
<text class="tz" x="408.9" y="687.4" text-anchor="end" textLength="18.2" lengthAdjust="spacingAndGlyphs">0.2</text>
<text class="tz" x="408.9" y="631.7" text-anchor="end" textLength="18.2" lengthAdjust="spacingAndGlyphs">0.4</text>
<text class="tk" x="413.4" y="752.4" text-anchor="middle">0</text>
<text class="tk" x="496.45" y="752.4" text-anchor="middle">0.5</text>
<text class="tk" x="579.5" y="752.4" text-anchor="middle">1.0</text>
<text class="tk" x="662.55" y="752.4" text-anchor="middle">1.5</text>
<text class="tk" x="745.6" y="752.4" text-anchor="middle">2.0</text>
<text class="xl" x="545.3" y="768.5" textLength="83.3" lengthAdjust="spacingAndGlyphs"><tspan>P(</tspan><tspan class="bi" stroke="#2b2b2b" stroke-width="0.3">ϖ</tspan><tspan class="sb" style="font-weight:bold" dy="2.5">2</tspan><tspan dy="-2.5" font-size="1px"> </tspan><tspan>) (Myr)</tspan></text>
<text class="an" x="610.1" y="647" textLength="125.4" lengthAdjust="spacingAndGlyphs">f (P &gt; P<tspan class="ss" dx="-6.0" dy="6.9">⊕</tspan><tspan dx="-0.5" dy="-6.9">) = 0.29</tspan></text>
</g>
<g id="legend">
<rect x="142.5" y="787.6" width="502" height="26.6" fill="#fff" stroke="#404040" stroke-width="1"/>
<rect x="152.7" y="791.9" width="18.1" height="18.3" fill="#8390d0" stroke="#1c1c1c" stroke-width="1"/>
<text class="lg" x="176.5" y="804.0" textLength="77.6" lengthAdjust="spacingAndGlyphs">Eccentricity</text>
<rect x="306.8" y="791.9" width="18.1" height="18.3" fill="#aec572" stroke="#1c1c1c" stroke-width="1"/>
<text class="lg" x="330.6" y="805.6" textLength="120.3" lengthAdjust="spacingAndGlyphs">Orbital inclination</text>
<rect x="493.7" y="791.9" width="18.1" height="18.3" fill="#a5645b" stroke="#1c1c1c" stroke-width="1"/>
<text class="lg" x="518.6" y="806.4" textLength="119.3" lengthAdjust="spacingAndGlyphs">Orbital precession</text>
</g>
</svg></body></html>
